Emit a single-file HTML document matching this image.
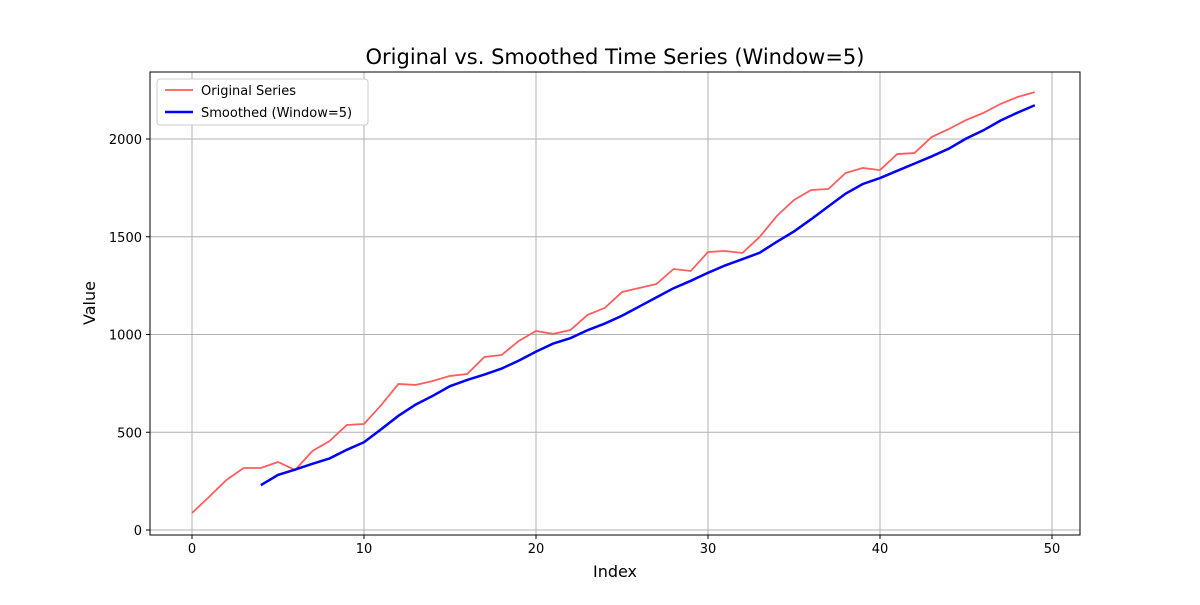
<!DOCTYPE html>
<html><head><meta charset="utf-8"><style>
body{margin:0;background:#fff;font-family:"Liberation Sans","DejaVu Sans",sans-serif}
</style></head><body>
<svg id="chart" width="1200" height="600" xmlns="http://www.w3.org/2000/svg" font-family="DejaVu Sans, Liberation Sans, sans-serif">
<rect width="1200" height="600" fill="#fff"/>
<text x="615" y="64" font-size="21" text-anchor="middle">Original vs. Smoothed Time Series (Window=5)</text>
<g id="grid"></g><g id="ticks"></g><g id="series"></g>
<rect x="150" y="72" width="930" height="463" fill="none" stroke="#000" stroke-width="1"/>
<text x="615" y="577" font-size="16" text-anchor="middle">Index</text>
<text x="95" y="303" font-size="16" text-anchor="middle" transform="rotate(-90 95 303)">Value</text>
<g>
<rect x="157" y="79" width="211" height="46" rx="3" fill="#fff" stroke="#ccc"/>
<line x1="165" y1="90" x2="193" y2="90" stroke="#ff5e5e" stroke-width="1.8"/>
<text x="201" y="95" font-size="13">Original Series</text>
<line x1="165" y1="112" x2="193" y2="112" stroke="#0000ff" stroke-width="2.5"/>
<text x="201" y="117" font-size="13">Smoothed (Window=5)</text>
</g>
</svg>
<script>
const original=[87,170,256,317,317,348,307,404,455,537,542,639,747,742,762,788,798,885,895,967,1018,1003,1023,1100,1136,1217,1238,1258,1335,1325,1422,1427,1417,1499,1606,1688,1739,1744,1826,1852,1841,1923,1928,2010,2051,2097,2133,2179,2215,2240];
const xTicks=[0,10,20,30,40,50];
const yTicks=[0,500,1000,1500,2000];
const windowSize=5;
const NS="http://www.w3.org/2000/svg";
const xS=v=>192+(v)*17.2;
const yS=v=>530-v*0.1955;
function mk(tag,attrs,parent){const e=document.createElementNS(NS,tag);for(const k in attrs)e.setAttribute(k,attrs[k]);parent.appendChild(e);return e;}
const grid=document.getElementById('grid'),ticks=document.getElementById('ticks'),series=document.getElementById('series');
xTicks.forEach(t=>{const x=xS(t);
 const g=mk('line',{x1:x,x2:x,y1:72,y2:535,stroke:'#b0b0b0','stroke-width':1},grid);
 
 
 mk('line',{x1:x,x2:x,y1:535,y2:539,stroke:'#000'},ticks);
 const l=mk('text',{x:x,y:553,'font-size':13,'text-anchor':'middle'},ticks);l.textContent=t;
 
 
});
yTicks.forEach(t=>{const y=yS(t);
 const g=mk('line',{x1:150,x2:1080,y1:y,y2:y,stroke:'#b0b0b0','stroke-width':1},grid);
 
 
 mk('line',{x1:146,x2:150,y1:y,y2:y,stroke:'#000'},ticks);
 const l=mk('text',{x:142,y:y+5,'font-size':13,'text-anchor':'end'},ticks);l.textContent=t;
 
 
});
const smoothed=original.map((v,i)=>i<windowSize-1?null:original.slice(i-windowSize+1,i+1).reduce((a,b)=>a+b,0)/windowSize);
const p1=mk('polyline',{points:original.map((v,i)=>xS(i)+','+yS(v)).join(' '),fill:'none',stroke:'#ff5e5e','stroke-width':1.8},series);


const p2=mk('polyline',{points:smoothed.map((v,i)=>v===null?null:xS(i)+','+yS(v)).filter(s=>s).join(' '),fill:'none',stroke:'#0000ff','stroke-width':2.5},series);


</script>
</body></html>
